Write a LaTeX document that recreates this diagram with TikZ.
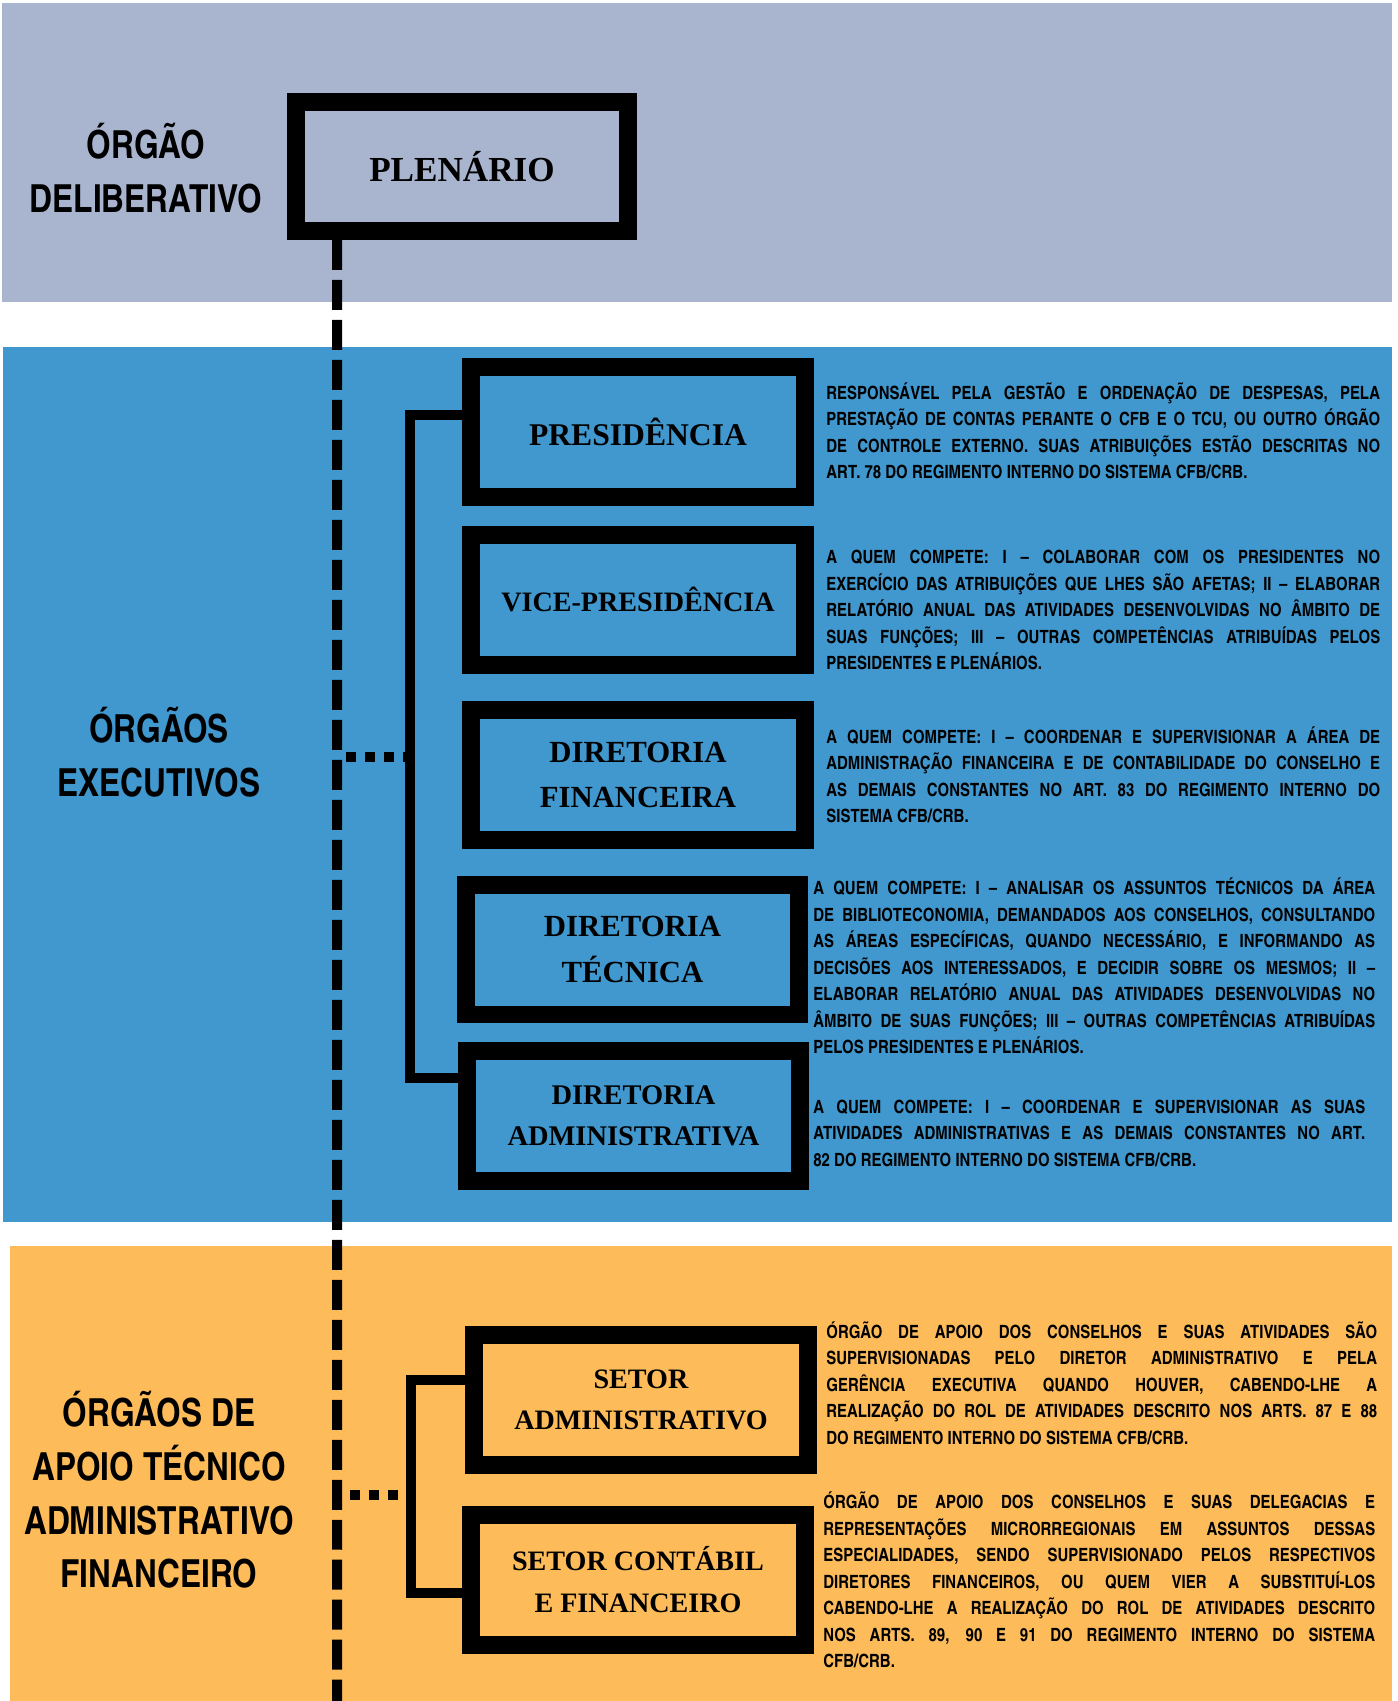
\documentclass[tikz,border=0pt]{standalone}
\usepackage{fontspec}
\setmainfont{Liberation Serif}
\newfontfamily\sidefont{texgyreheroscn-bold.otf}
\usetikzlibrary{calc}

\definecolor{delibgray}{RGB}{169,180,206}
\definecolor{execblue}{RGB}{64,152,207}
\definecolor{apoioorange}{RGB}{253,187,90}

\hyphenpenalty=10000
\exhyphenpenalty=10000

\tikzset{
  orgbox/.style={draw=black, line width=0.36cm, minimum width=6.68cm, minimum height=2.6cm,
    align=center, inner sep=0pt, font=\bfseries\fontsize{17.5}{25.8}\selectfont},
  desc/.style={anchor=west, inner sep=0pt, align=justify,
    font=\sidefont\fontsize{10.4}{15.1}\selectfont},
  sidelabel/.style={align=center, inner sep=0pt, font=\sidefont\fontsize{22}{30.6}\selectfont},
  bracket/.style={line width=0.2cm},
  spine/.style={line width=0.2cm, dash pattern=on 0.6cm off 0.2cm},
  dotline/.style={line width=0.2cm, dash pattern=on 0.2cm off 0.18cm}
}

\begin{document}
\begin{tikzpicture}[x=0.02cm, y=-0.02cm]
        \useasboundingbox (0,0) rectangle (1398,1701);

        \fill[delibgray] (2,3) rectangle (1392,302);
        \fill[execblue] (3,347) rectangle (1392,1222);
        \fill[apoioorange] (10,1246) rectangle (1392,1701);

        % deliberativo
        \node[sidelabel] (lbdelib) at (146,168) {ÓRGÃO\\DELIBERATIVO};
        \node[orgbox, minimum width=6.64cm, minimum height=2.58cm,
            font=\bfseries\fontsize{20}{26}\selectfont] (plen) at (462,166.5) {PLENÁRIO};

        \coordinate (spinetop) at ($(plen.south west)+(50,0)$);
        \coordinate (spinebot) at (337,1701);
        \draw[spine] (spinetop) -- (spinebot);

        % executivos
        \node[sidelabel] (lbexec) at (159,752) {ÓRGÃOS\\EXECUTIVOS};

        \node[orgbox, font=\bfseries\fontsize{18}{25.8}\selectfont] (pres) at (638,432) {PRESIDÊNCIA};
        \node[orgbox, font=\bfseries\fontsize{16}{25.8}\selectfont] (vice) at (638,600) {VICE-PRESIDÊNCIA};
        \node[orgbox] (dfin) at (638,775) {DIRETORIA\\FINANCEIRA};
        \node[orgbox, minimum width=6.66cm] (dtec) at (632.5,949.5) {DIRETORIA\\TÉCNICA};
        \node[orgbox, minimum width=6.66cm,
            font=\bfseries\fontsize{16.2}{23.2}\selectfont] (dadm) at (633.5,1116) {DIRETORIA\\ADMINISTRATIVA};

        \node[desc, text width=11.08cm] (presdesc) at (826,431) {RESPONSÁVEL PELA GESTÃO E ORDENAÇÃO DE DESPESAS, PELA\linebreak
            PRESTAÇÃO DE CONTAS PERANTE O CFB E O TCU, OU OUTRO ÓRGÃO\linebreak
            DE CONTROLE EXTERNO. SUAS ATRIBUIÇÕES ESTÃO DESCRITAS NO\linebreak
            ART. 78 DO REGIMENTO INTERNO DO SISTEMA CFB/CRB.};
        \node[desc, text width=11.08cm] (vicedesc) at (826,610) {A QUEM COMPETE: I – COLABORAR COM OS PRESIDENTES NO\linebreak
            EXERCÍCIO DAS ATRIBUIÇÕES QUE LHES SÃO AFETAS; II – ELABORAR\linebreak
            RELATÓRIO ANUAL DAS ATIVIDADES DESENVOLVIDAS NO ÂMBITO DE\linebreak
            SUAS FUNÇÕES; III – OUTRAS COMPETÊNCIAS ATRIBUÍDAS PELOS\linebreak
            PRESIDENTES E PLENÁRIOS.};
        \node[desc, text width=11.08cm] (dfindesc) at (826,775) {A QUEM COMPETE: I – COORDENAR E SUPERVISIONAR A ÁREA DE\linebreak
            ADMINISTRAÇÃO FINANCEIRA E DE CONTABILIDADE DO CONSELHO E\linebreak
            AS DEMAIS CONSTANTES NO ART. 83 DO REGIMENTO INTERNO DO\linebreak
            SISTEMA CFB/CRB.};
        \node[desc, text width=11.24cm] (dtecdesc) at (813,966) {A QUEM COMPETE: I – ANALISAR OS ASSUNTOS TÉCNICOS DA ÁREA\linebreak
            DE BIBLIOTECONOMIA, DEMANDADOS AOS CONSELHOS, CONSULTANDO\linebreak
            AS ÁREAS ESPECÍFICAS, QUANDO NECESSÁRIO, E INFORMANDO AS\linebreak
            DECISÕES AOS INTERESSADOS, E DECIDIR SOBRE OS MESMOS; II –\linebreak
            ELABORAR RELATÓRIO ANUAL DAS ATIVIDADES DESENVOLVIDAS NO\linebreak
            ÂMBITO DE SUAS FUNÇÕES; III – OUTRAS COMPETÊNCIAS ATRIBUÍDAS\linebreak
            PELOS PRESIDENTES E PLENÁRIOS.};
        \node[desc, text width=11.04cm] (dadmdesc) at (813,1133) {A QUEM COMPETE: I – COORDENAR E SUPERVISIONAR AS SUAS\linebreak
            ATIVIDADES ADMINISTRATIVAS E AS DEMAIS CONSTANTES NO ART.\linebreak
            82 DO REGIMENTO INTERNO DO SISTEMA CFB/CRB.};

        \coordinate (execspine) at (410,757);
        \coordinate (execjoin) at (346,757);
        \draw[bracket] ($(pres.west)+(0,-17)$) -| (execspine) |- ($(dadm.west)+(0,-38)$);
        \draw[dotline] (execjoin) -- (execspine);

        % apoio
        \node[sidelabel] (lbapoio) at (159,1490) {ÓRGÃOS DE\\APOIO TÉCNICO\\ADMINISTRATIVO\\FINANCEIRO};

        \node[orgbox, font=\bfseries\fontsize{16}{23.5}\selectfont] (sadm) at (641,1400) {SETOR\\ADMINISTRATIVO};
        \node[orgbox, font=\bfseries\fontsize{16}{23.5}\selectfont] (scont) at (638,1579.5) {SETOR CONTÁBIL\\E FINANCEIRO};

        \node[desc, text width=11.02cm] (sadmdesc) at (826,1383) {ÓRGÃO DE APOIO DOS CONSELHOS E SUAS ATIVIDADES SÃO\linebreak
            SUPERVISIONADAS PELO DIRETOR ADMINISTRATIVO E PELA\linebreak
            GERÊNCIA EXECUTIVA QUANDO HOUVER, CABENDO-LHE A\linebreak
            REALIZAÇÃO DO ROL DE ATIVIDADES DESCRITO NOS ARTS. 87 E 88\linebreak
            DO REGIMENTO INTERNO DO SISTEMA CFB/CRB.};
        \node[desc, text width=11.04cm] (scontdesc) at (823,1580) {ÓRGÃO DE APOIO DOS CONSELHOS E SUAS DELEGACIAS E\linebreak
            REPRESENTAÇÕES MICRORREGIONAIS EM ASSUNTOS DESSAS\linebreak
            ESPECIALIDADES, SENDO SUPERVISIONADO PELOS RESPECTIVOS\linebreak
            DIRETORES FINANCEIROS, OU QUEM VIER A SUBSTITUÍ-LOS\linebreak
            CABENDO-LHE A REALIZAÇÃO DO ROL DE ATIVIDADES DESCRITO\linebreak
            NOS ARTS. 89, 90 E 91 DO REGIMENTO INTERNO DO SISTEMA\linebreak
            CFB/CRB.};

        \coordinate (apoiospine) at (411,1495);
        \coordinate (apoiojoin) at (350,1495);
        \draw[bracket] ($(sadm.west)+(0,-20)$) -| (apoiospine) |- ($(scont.west)+(0,13.5)$);
        \draw[dotline] (apoiojoin) -- (apoiospine);

\end{tikzpicture}
\end{document}
